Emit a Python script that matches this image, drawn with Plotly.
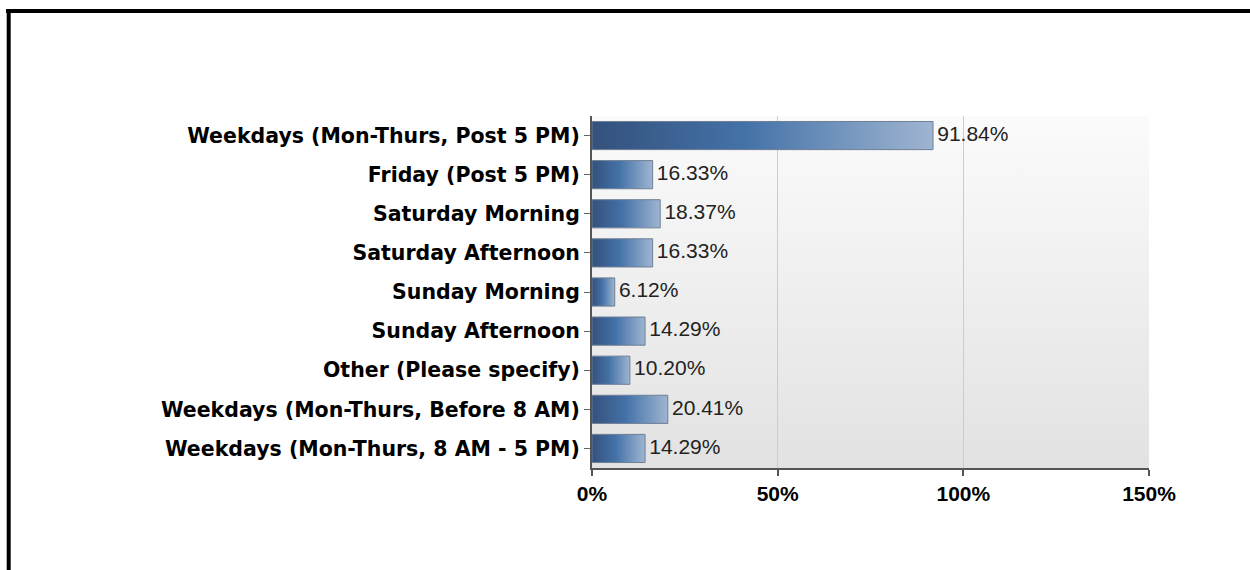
import base64

import plotly.graph_objects as go

categories = [
    "Weekdays (Mon-Thurs, Post 5 PM)",
    "Friday (Post 5 PM)",
    "Saturday Morning",
    "Saturday Afternoon",
    "Sunday Morning",
    "Sunday Afternoon",
    "Other (Please specify)",
    "Weekdays (Mon-Thurs, Before 8 AM)",
    "Weekdays (Mon-Thurs, 8 AM - 5 PM)",
]
values = [91.84, 16.33, 18.37, 16.33, 6.12, 14.29, 10.20, 20.41, 14.29]
x_ticks = [0, 50, 100, 150]
x_tick_labels = ["0%", "50%", "100%", "150%"]

W, H = 1250, 570
ML, MR, MT, MB = 592, 101, 116, 102
PW, PH = W - ML - MR, H - MT - MB
FONT = "Liberation Sans, Arial, sans-serif"
BAR_HALF = 0.36


def px_to_paper_x(px):
    return (px - ML) / PW


def px_to_paper_y(py):
    return (H - MB - py) / PH


# vertical gradient for the plot background
svg = (
    '<svg xmlns="http://www.w3.org/2000/svg" width="100" height="100" '
    'preserveAspectRatio="none">'
    '<defs><linearGradient id="g" x1="0" y1="0" x2="0" y2="1">'
    '<stop offset="0" stop-color="#fbfbfb"/><stop offset="1" stop-color="#e2e2e2"/>'
    "</linearGradient></defs>"
    '<rect width="100" height="100" fill="url(#g)"/></svg>'
)
bg_uri = "data:image/svg+xml;base64," + base64.b64encode(svg.encode()).decode()

bar_scale = [[0, "#34517c"], [0.45, "#4472a8"], [1, "#9fb5d1"]]

fig = go.Figure()

# Bars drawn as filled polygons so they can carry a horizontal gradient
for i, v in enumerate(values):
    fig.add_trace(
        go.Scatter(
            x=[0, v, v, 0, 0],
            y=[i - BAR_HALF, i - BAR_HALF, i + BAR_HALF, i + BAR_HALF, i - BAR_HALF],
            mode="lines",
            fill="toself",
            fillgradient=dict(type="horizontal", colorscale=bar_scale, start=0, stop=v),
            line=dict(color="#6f7f96", width=1),
            hoverinfo="skip",
            showlegend=False,
        )
    )

# Value labels
fig.add_trace(
    go.Scatter(
        x=values,
        y=list(range(len(values))),
        mode="text",
        text=["\u2009%.2f%%" % v for v in values],
        textposition="middle right",
        textfont=dict(family=FONT, size=21, color="#222222"),
        hoverinfo="skip",
        showlegend=False,
    )
)

fig.update_layout(
    width=W,
    height=H,
    margin=dict(l=ML, r=MR, t=MT, b=MB),
    paper_bgcolor="white",
    plot_bgcolor="rgba(0,0,0,0)",
    font=dict(family=FONT, color="black"),
    images=[
        dict(
            source=bg_uri,
            xref="paper",
            yref="paper",
            x=0,
            y=1,
            sizex=1,
            sizey=1,
            sizing="stretch",
            xanchor="left",
            yanchor="top",
            layer="below",
        )
    ],
    shapes=[
        # outer frame (top and left edges visible)
        dict(
            type="line",
            xref="paper",
            yref="paper",
            x0=px_to_paper_x(6),
            x1=px_to_paper_x(W + 10),
            y0=px_to_paper_y(11),
            y1=px_to_paper_y(11),
            line=dict(color="black", width=4),
        ),
        dict(
            type="line",
            xref="paper",
            yref="paper",
            x0=px_to_paper_x(8.7),
            x1=px_to_paper_x(8.7),
            y0=px_to_paper_y(9),
            y1=px_to_paper_y(H + 10),
            line=dict(color="black", width=4),
        ),
    ],
)

fig.update_xaxes(
    range=[0, 150],
    tickvals=x_ticks,
    ticktext=x_tick_labels,
    tickfont=dict(family=FONT, size=21, color="black", weight="bold"),
    showgrid=True,
    gridcolor="#cccccc",
    gridwidth=1,
    zeroline=False,
    showline=True,
    linecolor="#555555",
    linewidth=2,
    ticks="outside",
    ticklen=6,
    tickcolor="#555555",
    tickwidth=2,
    fixedrange=True,
)
fig.update_yaxes(
    range=[len(categories) - 0.5, -0.5],
    tickvals=list(range(len(categories))),
    ticktext=categories,
    tickfont=dict(family="DejaVu Sans, Verdana, sans-serif", size=20.5, color="black", weight="bold"),
    showgrid=False,
    zeroline=False,
    showline=True,
    linecolor="#555555",
    linewidth=2,
    ticks="outside",
    ticklen=6,
    tickcolor="#666666",
    tickwidth=1,
    fixedrange=True,
)

fig.write_html(
    "out.html",
    config={"displayModeBar": False},
    post_script="document.body.style.margin = '0';",
)
